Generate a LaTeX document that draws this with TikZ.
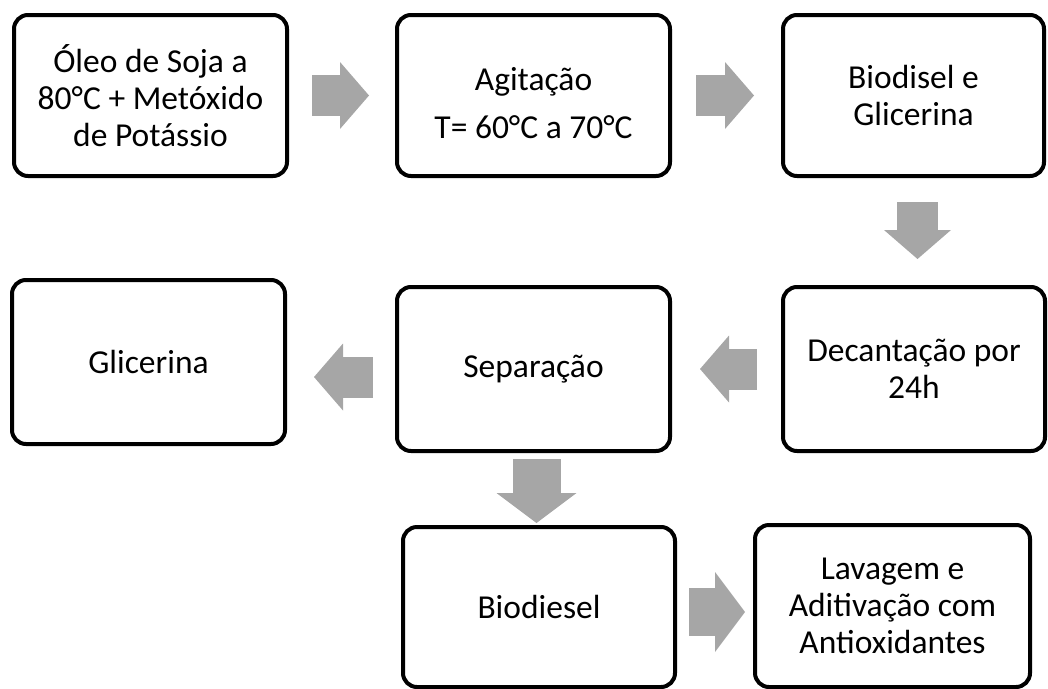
\documentclass[tikz,border=0pt]{standalone}
\usepackage{fontspec}
\setmainfont{Carlito}
\usetikzlibrary{arrows.meta}
\definecolor{arrowgray}{HTML}{A6A6A6}
\tikzset{
	steptext/.style={align=center, inner sep=0pt, font=\fontsize{33.5}{37}\selectfont},
	stepbox/.style={steptext, draw, line width=4pt, rounded corners=14pt},
	flow/.style={draw=arrowgray, line width=41pt, -{Triangle[length=29pt, width=67pt, line width=0pt]}},
	bigflow/.style={draw=arrowgray, line width=48pt, -{Triangle[length=30pt, width=80pt, line width=0pt]}}
}

\begin{document}
\begin{tikzpicture}[x=1pt, y=-1pt]
		%%%%% START %%%%%
		
		\useasboundingbox (0, 0) rectangle (1048, 688);
		
		\node[stepbox, minimum width=273pt, minimum height=161pt] (oleo) at (150.5, 95.5) {Óleo de Soja a\\80°C + Metóxido\\de Potássio};
		\node[stepbox, minimum width=273pt, minimum height=161pt] (agit) at (533.5, 95.5) {};
		\node[steptext] (agittext) at ([yshift=-8pt]agit.center) {Agitação\\[11pt]T= 60°C a 70°C};
		\node[stepbox, minimum width=261pt, minimum height=161pt] (mist) at (913.5, 95.5) {Biodisel e\\Glicerina};
		
		\node[stepbox, minimum width=262pt, minimum height=164pt] (decant) at (914, 369) {Decantação por\\24h};
		\node[stepbox, minimum width=273pt, minimum height=164pt] (separ) at (533.5, 369) {Separação};
		\node[stepbox, minimum width=273pt, minimum height=164pt] (glic) at (148.5, 362) {Glicerina};
		
		\node[stepbox, minimum width=272pt, minimum height=160pt] (biod) at (539, 607) {Biodiesel};
		\node[stepbox, minimum width=275pt, minimum height=162pt] (lavag) at (892.5, 606) {Lavagem e\\Aditivação com\\Antioxidantes};
		
		\draw[flow, shorten <=23pt, shorten >=26pt] (oleo.east) -- (agit.west);
		\draw[flow, shorten <=24pt, shorten >=27pt] (agit.east) -- (mist.west);
		\draw[flow, shorten <=24pt, shorten >=26pt] ([xshift=4pt]mist.south) -- ([xshift=4pt]mist.south |- decant.north);
		\draw[flow, shorten <=24pt, shorten >=28pt] (decant.west) -- (separ.east);
		\draw[flow, shorten <=22pt, shorten >=27pt] ([yshift=-8pt]separ.west) -- ([yshift=-8pt]separ.west -| glic.east);
		
		\draw[bigflow, shorten <=6pt, shorten >=2pt] ([xshift=3pt]separ.south) -- ([xshift=3pt]separ.south |- biod.north);
		\draw[bigflow, shorten <=12pt, shorten >=8pt] ([yshift=-5pt]biod.east) -- ([yshift=-5pt]biod.east -| lavag.west);
		
		%%%%% END %%%%%
	\end{tikzpicture}
\end{document}
